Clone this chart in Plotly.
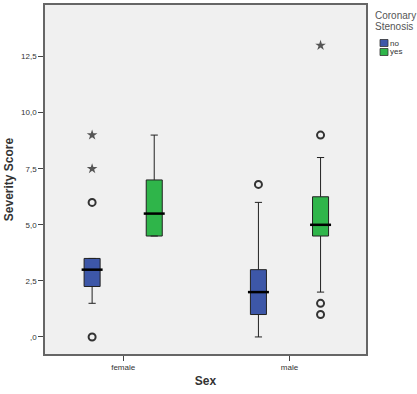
import plotly.graph_objects as go

categories = ["female", "male"]

# box statistics per group (Coronary Stenosis = no / yes)
no_q1 = [2.25, 1.0]
no_median = [3.0, 2.0]
no_q3 = [3.5, 3.0]
no_lower = [1.5, 0.0]
no_upper = [3.5, 6.0]

yes_q1 = [4.5, 4.5]
yes_median = [5.5, 5.0]
yes_q3 = [7.0, 6.25]
yes_lower = [4.5, 2.0]
yes_upper = [9.0, 8.0]

# outliers (circles) and extreme values (stars)
no_out_x = ["female", "female", "male"]
no_out_y = [0.0, 6.0, 6.8]
no_ext_x = ["female", "female"]
no_ext_y = [7.5, 9.0]
yes_out_x = ["male", "male", "male"]
yes_out_y = [9.0, 1.5, 1.0]
yes_ext_x = ["male"]
yes_ext_y = [13.0]

y_tickvals = [0, 2.5, 5.0, 7.5, 10.0, 12.5]
y_ticktext = [",0", "2,5", "5,0", "7,5", "10,0", "12,5"]

legend_title_lines = ["Coronary", "Stenosis"]
legend_labels = ["no", "yes"]

BLUE = "#3d57a8"
GREEN = "#2fb54a"
GAP = 0.253
GROUPGAP = 0.742

fig = go.Figure()

def add_group(name, color, q1, med, q3, lo, hi, ox, oy, ex, ey):
    fig.add_trace(go.Box(
        name=name, x=categories, q1=q1, median=med, q3=q3,
        lowerfence=lo, upperfence=hi, fillcolor=color,
        line=dict(color="#222222", width=1), whiskerwidth=0.45,
        boxpoints=False, offsetgroup=name, legendgroup=name,
    ))
    # thick median lines
    fig.add_trace(go.Scatter(
        x=categories, y=med, mode="markers", offsetgroup=name,
        marker=dict(symbol="line-ew-open", size=15, color="black",
                    line=dict(color="black", width=2.5)),
        showlegend=False, hoverinfo="skip",
    ))
    fig.add_trace(go.Scatter(
        x=ox, y=oy, mode="markers", offsetgroup=name,
        marker=dict(symbol="circle-open", size=7,
                    line=dict(color="#333333", width=2), color="#333333"),
        showlegend=False,
    ))
    fig.add_trace(go.Scatter(
        x=ex, y=ey, mode="markers", offsetgroup=name,
        marker=dict(symbol="star", size=8, color="#555555"),
        showlegend=False,
    ))

add_group("no", BLUE, no_q1, no_median, no_q3, no_lower, no_upper,
          no_out_x, no_out_y, no_ext_x, no_ext_y)
add_group("yes", GREEN, yes_q1, yes_median, yes_q3, yes_lower, yes_upper,
          yes_out_x, yes_out_y, yes_ext_x, yes_ext_y)

# SPSS-style legend drawn at the right of the plot
L, T, W, H = 45, 5, 321, 349   # plot area in pixels (for paper conversion)
def px(xp):
    return (xp - L) / W
def py(yp):
    return (T + H - yp) / H

annotations = []
shapes = []
for i, line in enumerate(legend_title_lines):
    annotations.append(dict(
        text=line, xref="paper", yref="paper", x=px(373), y=py(15 + 12 * i),
        xanchor="left", yanchor="middle", showarrow=False,
        font=dict(size=10, color="#555555"),
    ))
for i, (lab, col) in enumerate(zip(legend_labels, [BLUE, GREEN])):
    yc = 43 + 9 * i
    shapes.append(dict(
        type="rect", xref="paper", yref="paper",
        x0=px(380), x1=px(388), y0=py(yc + 3.5), y1=py(yc - 3.5),
        fillcolor=col, line=dict(color="#333333", width=0.8),
    ))
    annotations.append(dict(
        text=lab, xref="paper", yref="paper", x=px(388), y=py(yc),
        xanchor="left", yanchor="middle", showarrow=False,
        font=dict(size=8, color="#333333"),
    ))

fig.update_layout(
    width=417, height=394,
    margin=dict(l=L, r=417 - L - W, t=T, b=394 - T - H, autoexpand=False),
    paper_bgcolor="white", plot_bgcolor="#f0f0f0",
    font=dict(family="Liberation Sans, Arial, sans-serif", color="#333333", size=9),
    boxmode="group", boxgap=GAP, boxgroupgap=GROUPGAP,
    scattermode="group", scattergap=GAP,
    showlegend=False,
    annotations=annotations,
    shapes=shapes,
)

fig.update_xaxes(
    type="category", categoryorder="array", categoryarray=categories,
    range=[-0.47, 1.46],
    showline=True, linecolor="#666666", linewidth=1.5, mirror=True,
    ticks="outside", ticklen=5, tickcolor="#444444",
    tickfont=dict(size=8, color="#333333"),
    showgrid=False, zeroline=False,
    title=dict(text="<b>Sex</b>", font=dict(size=12, color="#333333"), standoff=5),
)
fig.update_yaxes(
    range=[-0.76, 14.8],
    tickvals=y_tickvals, ticktext=y_ticktext,
    showline=True, linecolor="#666666", linewidth=1.5, mirror=True,
    ticks="outside", ticklen=5, tickcolor="#444444",
    tickfont=dict(size=8, color="#333333"),
    showgrid=False, zeroline=False,
    title=dict(text="<b>Severity Score</b>", font=dict(size=12, color="#333333"), standoff=5),
)

fig.write_html(
    "out.html",
    config={"displayModeBar": False},
    post_script="document.body.style.margin='0';document.body.style.overflow='hidden';",
)
